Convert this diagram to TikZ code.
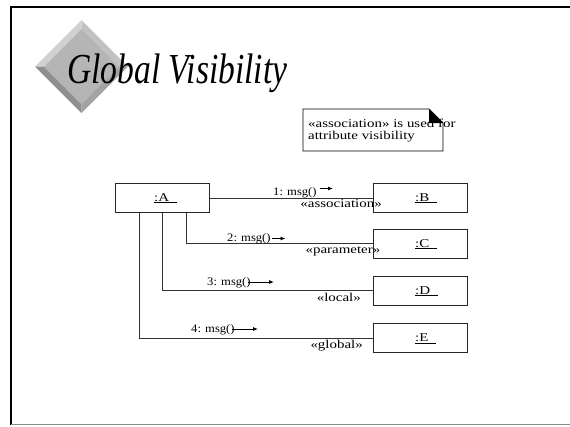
\documentclass[tikz,border=0pt]{standalone}
\usepackage{fontspec}
\usepackage{graphicx}
\setmainfont{Liberation Serif}
\usetikzlibrary{arrows.meta}
% small labels are set slightly widened
\newcommand\wtext[1]{\scalebox{1.25}[1]{\fontsize{12}{13}\selectfont #1}}
\newcommand\mtext[1]{\scalebox{1.1}[1]{\fontsize{11.5}{12}\selectfont #1}}
\begin{document}
\begin{tikzpicture}[x=1bp,y=-1bp,
  objbox/.style={draw=black!85, line width=0.9bp, minimum width=94bp,
    minimum height=29bp, inner sep=0pt, anchor=north west},
  objname/.style={inner sep=0pt, anchor=base west},
  link/.style={draw=black!80, line width=0.9bp},
  msglabel/.style={inner sep=0pt, anchor=base west},
  stereo/.style={inner sep=0pt, anchor=base east},
  msgarrow/.style={line width=0.9bp, -{Latex[length=5bp,width=4bp]}},
]
\useasboundingbox (0,0) rectangle (570,426);

% slide frame
\draw[line width=2bp, line cap=rect] (11,424) -- (11,7) -- (570,7);
\draw[black!45, line width=1.5bp] (11,424.5) -- (570,424.5);

% bevelled diamond behind the title
\coordinate (dT) at (81.5,20);   \coordinate (dR) at (128,66.5);
\coordinate (dB) at (81.5,113);  \coordinate (dL) at (35,66.5);
\coordinate (iT) at (81.5,29);   \coordinate (iR) at (119,66.5);
\coordinate (iB) at (81.5,104);  \coordinate (iL) at (44,66.5);
\fill[black!18] (dL) -- (dT) -- (iT) -- (iL) -- cycle;
\fill[black!24] (dT) -- (dR) -- (iR) -- (iT) -- cycle;
\fill[black!36] (dR) -- (dB) -- (iB) -- (iR) -- cycle;
\fill[black!44] (dB) -- (dL) -- (iL) -- (iB) -- cycle;
\fill[black!29] (iT) -- (iR) -- (iB) -- (iL) -- cycle;

% title
\node[inner sep=0pt, anchor=base west] (title) at (67,83)
  {\scalebox{1.02}[1.3]{\fontsize{33}{36}\selectfont\itshape Global Visibility}};

% note with folded corner
\draw[line width=0.9bp] (303,109) -- (429,109) -- (443,123) -- (443,151) -- (303,151) -- cycle;
\fill (429,109) -- (429,123) -- (443,123) -- cycle;
\node[inner sep=0pt, anchor=base west] (notel1) at (308,127.5) {\wtext{«association» is used for}};
\node[inner sep=0pt, anchor=base west] (notel2) at (308,139) {\wtext{attribute visibility}};

% objects
\node[objbox] (A) at (115,183) {};
\node[objbox] (B) at (373,183) {};
\node[objbox] (C) at (373,228.5) {};
\node[objbox] (D) at (373,275.5) {};
\node[objbox] (E) at (373,323) {};
\node[objname] at (154,201) {\wtext{\underline{:A\hspace{6bp}}}};
\node[objname] at (415,201) {\wtext{\underline{:B\hspace{6bp}}}};
\node[objname] at (415,247) {\wtext{\underline{:C\hspace{6bp}}}};
\node[objname] at (415,294) {\wtext{\underline{:D\hspace{6bp}}}};
\node[objname] at (415,341.5) {\wtext{\underline{:E\hspace{6bp}}}};

% links
\draw[link] (A.east) -- (B.west);
\draw[link] ([xshift=24bp]A.south) |- (C.west);
\draw[link] (A.south) |- (D.west);
\draw[link] ([xshift=-23bp]A.south) |- (E.west);

% messages
\node[msglabel] (m1) at (273,195) {\mtext{1: msg()}};
\draw[msgarrow] (320,188.5) -- (333,188.5);
\node[msglabel] (m2) at (227,241) {\mtext{2: msg()}};
\draw[msgarrow] (272,238.5) -- (285.5,238.5);
\node[msglabel] (m3) at (207,285.5) {\mtext{3: msg()}};
\draw[msgarrow] (248,282) -- (274,282);
\node[msglabel] (m4) at (191,332) {\mtext{4: msg()}};
\draw[msgarrow] (232,329) -- (258,329);

% link stereotypes
\node[stereo] (s1) at (382,207) {\wtext{«association»}};
\node[stereo] (s2) at (380.5,253.5) {\wtext{«parameter»}};
\node[stereo] (s3) at (361,301) {\wtext{«local»}};
\node[stereo] (s4) at (363,348.5) {\wtext{«global»}};
\end{tikzpicture}
\end{document}
